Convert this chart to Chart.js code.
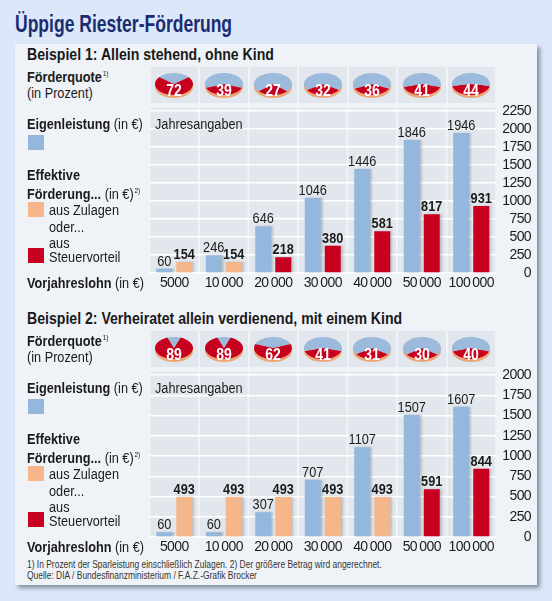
<!DOCTYPE html>
<html lang="de">
<head>
<meta charset="utf-8">
<title>Üppige Riester-Förderung</title>
<script src="https://cdn.jsdelivr.net/npm/chart.js@4.4.1/dist/chart.umd.min.js"></script>
<style>
  body { margin: 0; width: 552px; height: 601px; background: #dce8f9; position: relative; overflow: hidden;
         font-family: 'Liberation Sans', Arial, sans-serif; color: #1a1a1a; }
  .abs { position: absolute; white-space: nowrap; }
  .narrow { transform: scaleX(0.82); transform-origin: 0 50%; }
  #panel { left: 15px; top: 44px; width: 522px; height: 541px; background: #eff3f7; box-shadow: 3px 3px 4px rgba(50, 60, 80, .5); }
  .title { font-size: 24px; font-weight: bold; color: #1b2c70; transform: scaleX(0.73); transform-origin: 0 50%; }
  .heading { font-size: 17.2px; font-weight: bold; }
  .lbl { font-size: 15.5px; }
  .sup { font-size: 8px; position: relative; top: -6px; margin-left: 1px; }
  .cell { background: #e2e7ed; }
  .pienum { color: #fff; font-weight: bold; font-size: 16.5px; text-align: center; transform: scaleX(0.85); }
  .foot { font-size: 10.3px; color: #333; }
  canvas { position: absolute; }
</style>
</head>
<body>
<div id="panel" class="abs"></div>
<canvas id="bars1" width="396" height="194"></canvas>
<canvas id="bars2" width="396" height="194"></canvas>
<script>
'use strict';

// data
const lohn = ['5000', '10\u2009000', '20\u2009000', '30\u2009000', '40\u2009000', '50\u2009000', '100\u2009000'];

const quote1 = [72, 39, 27, 32, 36, 41, 44];
const eigen1 = [60, 246, 646, 1046, 1446, 1846, 1946];
const foerd1 = [154, 154, 218, 380, 581, 817, 931];
const art1 = ['Z', 'Z', 'S', 'S', 'S', 'S', 'S'];

const quote2 = [89, 89, 62, 41, 31, 30, 40];
const eigen2 = [60, 60, 307, 707, 1107, 1507, 1607];
const foerd2 = [493, 493, 493, 493, 493, 591, 844];
const art2 = ['Z', 'Z', 'Z', 'Z', 'Z', 'S', 'S'];

const yMax1 = 2250;
const yMax2 = 2000;
const yStep = 250;

// colours
const blau = '#93b7dd';
const orange = '#f5b68a';
const rot = '#c8001f';
const fontFam = "'Liberation Sans', Arial, sans-serif";

function addEl(cls, left, cy, lh, html) {
  let el = document.createElement('div');
  el.className = 'abs ' + cls;
  el.style.left = left + 'px';
  el.style.top = (cy - lh / 2) + 'px';
  el.style.lineHeight = lh + 'px';
  el.innerHTML = html;
  document.body.appendChild(el);
  return el;
}

function addBox(cls, left, top, w, h, color) {
  let el = document.createElement('div');
  el.className = 'abs ' + cls;
  el.style.left = left + 'px';
  el.style.top = top + 'px';
  el.style.width = w + 'px';
  el.style.height = h + 'px';
  if (color) el.style.background = color;
  document.body.appendChild(el);
  return el;
}

// grey column cells behind the bars
const cellPlugin = {
  id: 'cells',
  beforeDraw(chart) {
    let ctx = chart.ctx;
    let area = chart.chartArea;
    let x = chart.scales.x;
    let w = x.getPixelForValue(1) - x.getPixelForValue(0);
    ctx.save();
    ctx.fillStyle = '#e2e7ed';
    for (let i = 0; i < chart.data.labels.length; i++) {
      let cx = x.getPixelForValue(i);
      ctx.fillRect(cx - w / 2 + 1, area.top - 3, w - 2, area.bottom - area.top + 3);
    }
    ctx.restore();
    ctx.letterSpacing = '-0.6px';
  }
};

// soft shadow on bars + value labels
const valuePlugin = {
  id: 'values',
  beforeDatasetsDraw(chart) {
    let ctx = chart.ctx;
    ctx.save();
    ctx.shadowColor = 'rgba(0,0,0,0.18)';
    ctx.shadowOffsetX = 2;
    ctx.shadowBlur = 2;
  },
  afterDatasetsDraw(chart) {
    let ctx = chart.ctx;
    ctx.restore();
    ctx.letterSpacing = '0px';
    ctx.fillStyle = '#1a1a1a';
    ctx.textAlign = 'center';
    ctx.textBaseline = 'alphabetic';
    chart.data.datasets.forEach((ds, d) => {
      chart.getDatasetMeta(d).data.forEach((bar, i) => {
        ctx.save();
        ctx.font = (d === 1 ? 'bold ' : '') + '15px ' + fontFam;
        ctx.translate(bar.x, bar.y - 3);
        ctx.scale(0.85, 1);
        ctx.fillText(ds.data[i], 0, 0);
        ctx.restore();
      });
    });
  }
};

function makeBars(id, left, top, eigen, foerd, art, yMax) {
  let canvas = document.getElementById(id);
  canvas.style.left = left + 'px';
  canvas.style.top = top + 'px';
  return new Chart(canvas, {
    type: 'bar',
    data: {
      labels: lohn,
      datasets: [
        { label: 'Eigenleistung', data: eigen, backgroundColor: blau },
        { label: 'Effektive Förderung', data: foerd, backgroundColor: art.map(a => a === 'Z' ? orange : rot) }
      ]
    },
    options: {
      responsive: false,
      animation: false,
      devicePixelRatio: 1,
      layout: { padding: { left: 9.5, right: 5, top: 10, bottom: 0 } },
      datasets: { bar: { categoryPercentage: 0.808, barPercentage: 0.8 } },
      plugins: { legend: { display: false }, tooltip: { enabled: false } },
      scales: {
        x: {
          grid: { display: false, drawTicks: false },
          border: { display: false },
          ticks: { color: '#1a1a1a', font: { family: fontFam, size: 14 }, padding: 2, maxRotation: 0, autoSkip: false },
          afterFit(s) { s.height = 22; }
        },
        y: {
          position: 'right',
          min: 0,
          max: yMax,
          grid: { color: '#ffffff', lineWidth: 1.5, drawTicks: false },
          border: { display: false },
          ticks: {
            stepSize: yStep, autoSkip: false, crossAlign: 'far', color: '#1a1a1a',
            font: { family: fontFam, size: 14 }, padding: 0,
            callback: v => String(v)
          },
          afterFit(s) { s.width = 35; }
        }
      }
    },
    plugins: [cellPlugin, valuePlugin]
  });
}

function makePie(cx, cy, value) {
  // rim of the tilted pie
  addBox('', cx - 19, cy - 11 + 3, 38, 22, '#eda676').style.borderRadius = '50%';
  let wrap = addBox('', cx - 19, cy - 19, 38, 38);
  wrap.style.transform = 'scaleY(0.58)';
  let c = document.createElement('canvas');
  c.width = 38;
  c.height = 38;
  c.style.left = '0px';
  c.style.top = '0px';
  wrap.appendChild(c);
  new Chart(c, {
    type: 'pie',
    data: { datasets: [{ data: [value, 100 - value], backgroundColor: [rot, '#9cbadc'], borderWidth: 0 }] },
    options: {
      responsive: false, animation: false, devicePixelRatio: 1,
      rotation: 180 - value * 1.8,
      plugins: { legend: { display: false }, tooltip: { enabled: false } }
    }
  });
  let num = addEl('pienum', cx - 19, cy + 6, 16, String(value));
  num.style.width = '38px';
}

function buildExample(off, heading, quote, eigen, foerd, art, yMax, id) {
  addEl('heading narrow', 27, 54 + off, 20, heading);
  addEl('lbl narrow', 27, 77 + off, 16, '<b>Förderquote</b><span class="sup">1)</span>');
  addEl('lbl narrow', 27, 93 + off, 16, '(in Prozent)');
  addEl('lbl narrow', 27, 124 + off, 16, '<b>Eigenleistung</b> (in €)');
  addBox('', 28, 135 + off, 16, 15, blau);
  addEl('lbl narrow', 27, 175 + off, 16, '<b>Effektive</b>');
  addEl('lbl narrow', 27, 194 + off, 16, '<b>Förderung...</b> (in €)<span class="sup">2)</span>');
  addBox('', 28, 202 + off, 16, 15, orange);
  addEl('lbl narrow', 49, 210 + off, 16, 'aus Zulagen');
  addEl('lbl narrow', 49, 227 + off, 16, 'oder...');
  addEl('lbl narrow', 49, 243 + off, 16, 'aus');
  addBox('', 28, 248 + off, 16, 15, rot);
  addEl('lbl narrow', 49, 257 + off, 16, 'Steuervorteil');
  addEl('lbl narrow', 27, 283 + off, 16, '<b>Vorjahreslohn</b> (in €)');

  let chart = makeBars(id, 140, 101 + off, eigen, foerd, art, yMax);
  let xs = chart.scales.x;
  let w = xs.getPixelForValue(1) - xs.getPixelForValue(0);
  for (let i = 0; i < quote.length; i++) {
    let cx = 140 + xs.getPixelForValue(i);
    addBox('cell', cx - w / 2 + 1, 67 + off, w - 2, 36);
    makePie(cx, 83.5 + off, quote[i]);
  }
  addEl('lbl narrow', 155, 124 + off, 16, 'Jahresangaben').style.zIndex = 2;
}

addEl('title', 15, 24, 28, 'Üppige Riester-Förderung');

buildExample(0, 'Beispiel 1: Allein stehend, ohne Kind', quote1, eigen1, foerd1, art1, yMax1, 'bars1');
buildExample(264, 'Beispiel 2: Verheiratet allein verdienend, mit einem Kind', quote2, eigen2, foerd2, art2, yMax2, 'bars2');

addEl('foot narrow', 27, 564, 11, '1) In Prozent der Sparleistung einschließlich Zulagen. 2) Der größere Betrag wird angerechnet.');
addEl('foot narrow', 27, 575, 11, 'Quelle: DIA / Bundesfinanzministerium / F.A.Z.-Grafik Brocker');
</script>
</body>
</html>
